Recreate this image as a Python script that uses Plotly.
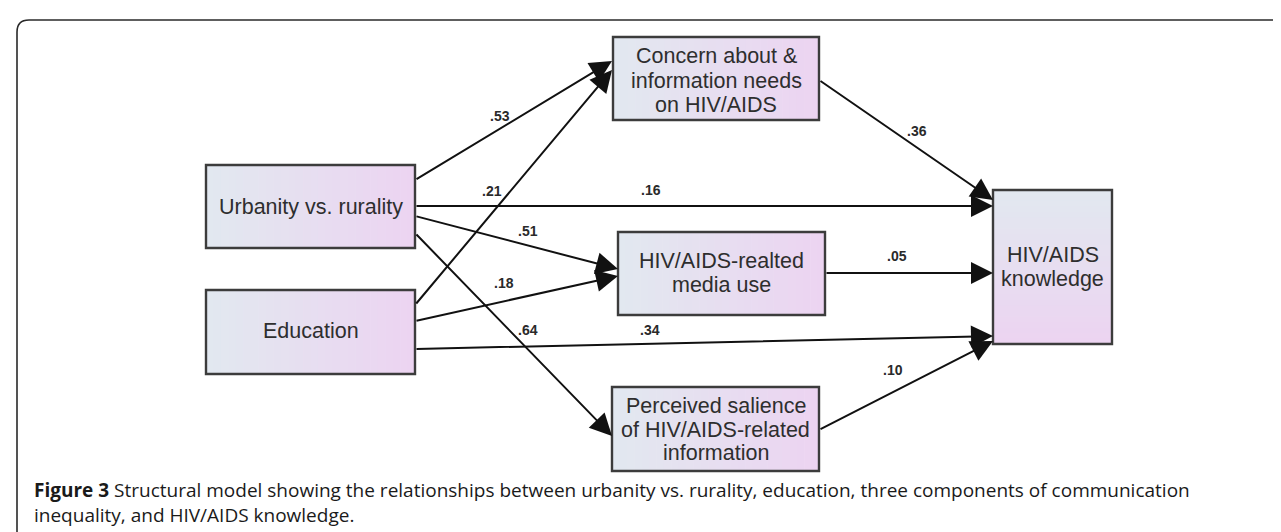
import plotly.graph_objects as go

# ---------------- data ----------------
node_labels = [
    ["Urbanity vs. rurality"],
    ["Education"],
    ["Concern about &", "information needs", "on HIV/AIDS"],
    ["HIV/AIDS-realted", "media use"],
    ["Perceived salience", "of HIV/AIDS-related", "information"],
    ["HIV/AIDS", "knowledge"],
]
path_sources = [0, 1, 0, 0, 0, 1, 1, 2, 3, 4]
path_targets = [2, 2, 5, 3, 4, 3, 5, 5, 5, 5]
path_coefs = [0.53, 0.21, 0.16, 0.51, 0.64, 0.18, 0.34, 0.36, 0.05, 0.10]

caption_bold = "Figure 3"
caption_line1 = " Structural model showing the relationships between urbanity vs. rurality, education, three components of communication"
caption_line2 = "inequality, and HIV/AIDS knowledge."

# ---------------- layout geometry (pixels) ----------------
W, H = 1281, 532
box_rects = [  # x0, y0, x1, y1
    (198, 157, 407, 240),
    (198, 282, 407, 366),
    (605, 29, 811, 112),
    (610, 224, 817, 307),
    (604, 379, 811, 463),
    (985, 182, 1104, 336),
]
label_line_y = [
    [199],
    [323],
    [48, 72.5, 97],
    [253, 277],
    [398, 421.5, 445],
    [247, 271],
]
# per-path tail and head points, and coefficient label positions
tails = [(407, 172), (407, 297), (407, 198), (407, 208), (407, 225),
         (407, 313), (407, 341), (811, 72), (817, 265), (811, 422)]
heads = [(604, 53), (604, 62), (985, 198), (610, 261), (604, 428),
         (610, 268), (985, 328), (985, 192), (985, 265), (985, 333)]
coef_pos = [(492, 108), (484, 183), (643, 182), (520, 223), (520, 322),
            (496, 275), (642, 322), (909, 123), (889, 248), (885, 362)]

c_left = (226, 232, 240)
c_right = (236, 212, 241)


def mix(t):
    return "rgb(%d,%d,%d)" % tuple(round(a + (b - a) * t) for a, b in zip(c_left, c_right))


shapes = []
# frame (cropped: open on right and bottom)
shapes.append(dict(type="path", path="M 9,532 L 9,24 Q 9,12 21,12 L 1281,12",
                   line=dict(color="#2a2a2a", width=1.6), layer="below"))

N = 28
for bi, (x0, y0, x1, y1) in enumerate(box_rects):
    vertical = bi == 5
    for k in range(N):
        t = k / (N - 1)
        if vertical:
            ya = y0 + (y1 - y0) * k / N
            yb = y0 + (y1 - y0) * (k + 1) / N + 0.6
            shapes.append(dict(type="rect", x0=x0, x1=x1, y0=ya, y1=yb,
                               fillcolor=mix(t), line=dict(width=0), layer="below"))
        else:
            xa = x0 + (x1 - x0) * k / N
            xb = x0 + (x1 - x0) * (k + 1) / N + 0.6
            shapes.append(dict(type="rect", x0=xa, x1=xb, y0=y0, y1=y1,
                               fillcolor=mix(t), line=dict(width=0), layer="below"))
    shapes.append(dict(type="rect", x0=x0, x1=x1, y0=y0, y1=y1,
                       fillcolor="rgba(0,0,0,0)", line=dict(color="#3c3c3c", width=2.4),
                       layer="above"))

annotations = []
for bi, lines in enumerate(node_labels):
    x0, y0, x1, y1 = box_rects[bi]
    for line, yy in zip(lines, label_line_y[bi]):
        annotations.append(dict(x=(x0 + x1) / 2, y=yy, xref="x", yref="y", text=line,
                                showarrow=False, xanchor="center", yanchor="middle",
                                font=dict(family="Liberation Sans, Arial", size=21.5, color="#2e2e2e")))

for i, c in enumerate(path_coefs):
    (tx, ty), (hx, hy) = tails[i], heads[i]
    annotations.append(dict(x=hx, y=hy, ax=tx, ay=ty, xref="x", yref="y",
                            axref="x", ayref="y", text="", showarrow=True,
                            arrowhead=2, arrowsize=2.2, arrowwidth=2,
                            arrowcolor="#111111", standoff=0, startstandoff=0))
    lx, ly = coef_pos[i]
    annotations.append(dict(x=lx, y=ly, xref="x", yref="y",
                            text="<b>" + ("%.2f" % c).lstrip("0") + "</b>",
                            showarrow=False, xanchor="center", yanchor="middle",
                            font=dict(family="Liberation Sans, Arial", size=14, color="#2a2a2a")))

annotations.append(dict(x=24, y=494, xref="x", yref="y", showarrow=False,
                        xanchor="left", yanchor="middle", align="left",
                        text="<b>" + caption_bold + "</b>" + caption_line1 + "<br>" + caption_line2,
                        font=dict(family="Open Sans", size=19, color="#1a1a1a")))

fig = go.Figure()
fig.add_trace(go.Scatter(x=[0, W], y=[0, H], mode="markers",
                         marker=dict(opacity=0), hoverinfo="skip", showlegend=False))
fig.update_layout(
    width=W, height=H, margin=dict(l=0, r=0, t=0, b=0),
    paper_bgcolor="white", plot_bgcolor="white",
    xaxis=dict(range=[0, W], visible=False, fixedrange=True),
    yaxis=dict(range=[H, 0], visible=False, fixedrange=True),
    shapes=shapes, annotations=annotations, showlegend=False,
)
fig.write_html("out.html")
